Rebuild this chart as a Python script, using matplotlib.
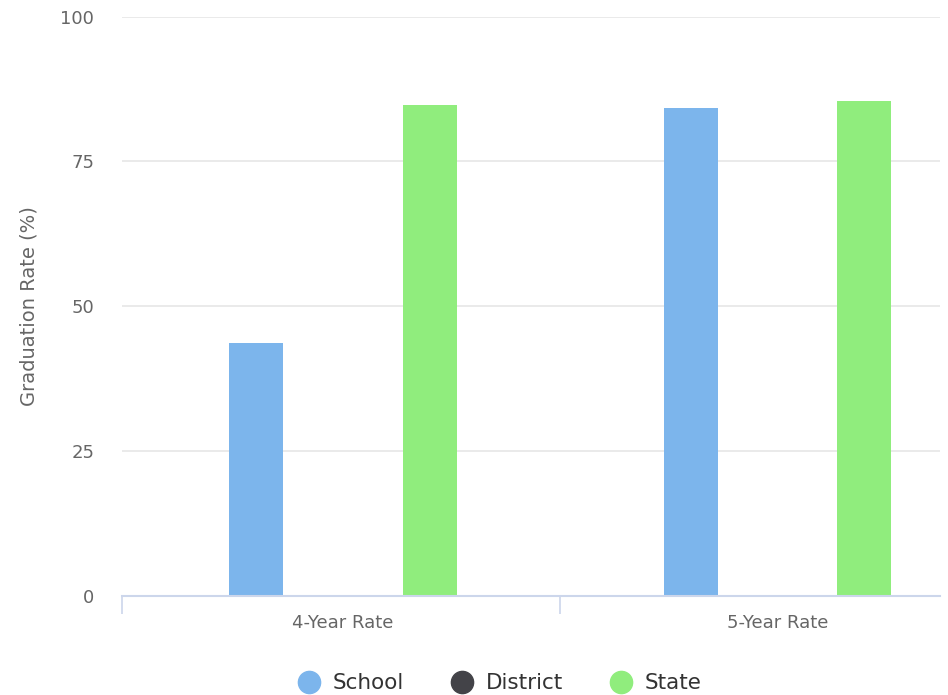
import numpy as np
import matplotlib
matplotlib.use("Agg")
import matplotlib.pyplot as plt
from matplotlib.lines import Line2D

# ---- data ---------------------------------------------------------------
categories = ["4-Year Rate", "5-Year Rate"]
series_names = ["School", "District", "State"]
school = [43.6, 84.2]
district = [np.nan, np.nan]   # no district figures reported
state = [84.7, 85.4]
y_ticks = [0, 25, 50, 75, 100]

colors = ["#7cb5ec", "#434348", "#90ed7d"]
offsets = [-0.2, 0.0, 0.2]
bar_w = 0.124
x_left, x_right = -0.509, 1.374

fig = plt.figure(figsize=(9.48, 6.95), dpi=100)
ax = fig.add_axes([122 / 948, 99 / 695, (940 - 122) / 948, (678.5 - 99) / 695])

x = np.arange(len(categories))
for vals, color, off in zip([school, district, state], colors, offsets):
    ax.bar(x + off, vals, width=bar_w, color=color, zorder=3)

ax.set_xlim(x_left, x_right)
ax.set_ylim(0, 100)
ax.set_yticks(y_ticks)
ax.set_yticklabels([str(t) for t in y_ticks])
ax.grid(axis="y", color="#e6e6e6", linewidth=1.2, zorder=0)

# category ticks sit on the group boundaries, labels sit at the centres
ax.set_xticks([x_left, 0.5])
ax.set_xticklabels(["", ""])
ax.set_xticks(x, minor=True)
ax.set_xticklabels(categories, minor=True)
ax.tick_params(axis="x", which="major", length=13, width=1.2, color="#ccd6eb")
ax.tick_params(axis="x", which="minor", length=0, pad=13,
               labelsize=13, labelcolor="#666666")
ax.tick_params(axis="y", length=0, pad=20, labelsize=13, labelcolor="#666666")

for side in ["top", "right", "left"]:
    ax.spines[side].set_visible(False)
ax.spines["bottom"].set_color("#ccd6eb")
ax.spines["bottom"].set_linewidth(1.5)
ax.spines["bottom"].set_zorder(4)

ax.set_ylabel("Graduation Rate (%)", fontsize=14, color="#666666", labelpad=16)

handles = [Line2D([0], [0], marker="o", linestyle="", markersize=16,
                  markerfacecolor=c, markeredgecolor=c) for c in colors]
fig.legend(handles, series_names, loc="center", ncol=3,
           bbox_to_anchor=(0.522, 0.017), frameon=False,
           fontsize=15.5, labelcolor="#333333", handletextpad=0.1,
           columnspacing=1.7)

fig.savefig("out.png", dpi=100)
